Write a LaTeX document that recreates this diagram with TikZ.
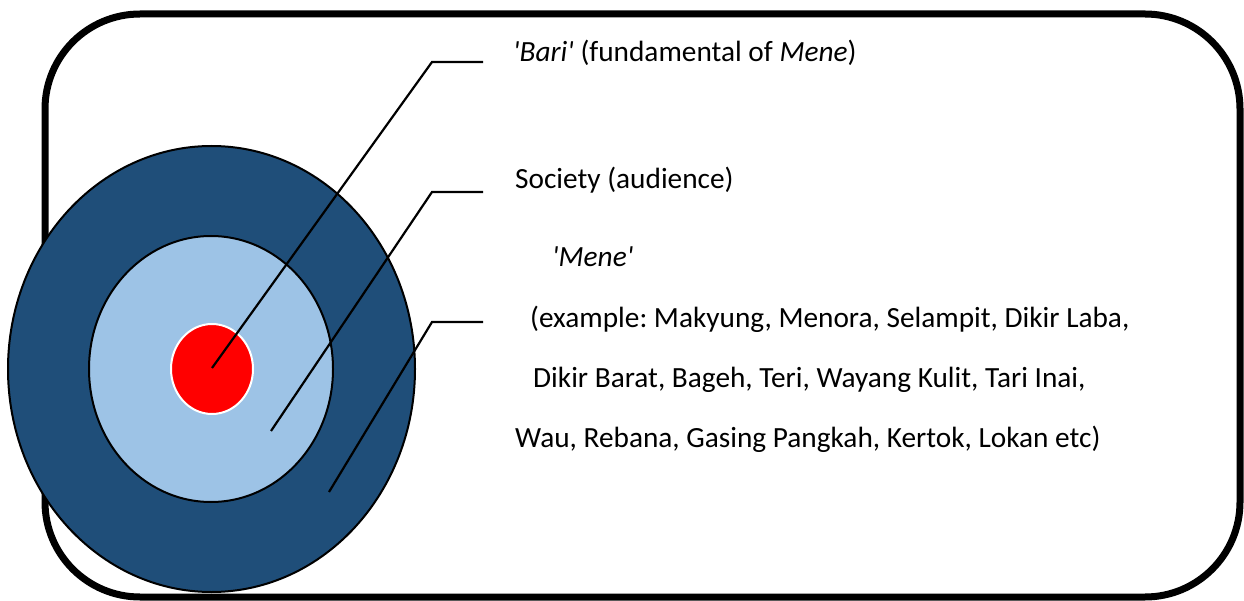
\documentclass[tikz,border=0pt]{standalone}
\usepackage{fontspec}
\setmainfont{Carlito}
\usetikzlibrary{shapes.geometric}
\definecolor{darkblue}{RGB}{31,78,121}
\definecolor{lightblue}{RGB}{157,195,230}
\frenchspacing
\begin{document}
\begin{tikzpicture}[x=1pt,y=-1pt,
  frame/.style={line width=7pt,rounded corners=95pt},
  ring/.style={ellipse,draw=black,line width=2pt,inner sep=0pt},
  leader/.style={line width=2.2pt},
  lbl/.style={anchor=base west,inner sep=0pt,font=\fontsize{29.3}{35}\selectfont}]
\useasboundingbox (0,0) rectangle (1244,601);
\draw[frame] (45,14) rectangle (1240,597);
\node[ring,fill=darkblue,minimum width=407pt,minimum height=446pt] (outer) at (211.5,369) {};
\node[ring,fill=lightblue,minimum width=244pt,minimum height=266pt] (inner) at (211,369) {};
\node[ellipse,draw=white,fill=red,line width=2pt,inner sep=0pt,minimum width=82pt,minimum height=90pt] (core) at (212,369) {};
% leader points
\coordinate (p1) at (212,368);
\coordinate (e1) at (432,62);
\coordinate (t1) at (483,62);
\coordinate (p2) at (271,431);
\coordinate (e2) at (432,192);
\coordinate (t2) at (483,192);
\coordinate (p3) at (329,492);
\coordinate (e3) at (432,322);
\coordinate (t3) at (483,322);
\draw[leader] (p1) -- (e1) -- (t1);
\draw[leader] (p2) -- (e2) -- (t2);
\draw[leader] (p3) -- (e3) -- (t3);
% labels
\node[lbl] (bari) at (513,62) {\textit{\textquotesingle Bari\textquotesingle} (fundamental of \textit{Mene})};
\node[lbl] (society) at (515,189) {Society (audience)};
\node[lbl] (mene) at (552,267) {\textit{\textquotesingle Mene\textquotesingle}};
\node[lbl] (ex1) at (530,327) {(example: Makyung, Menora, Selampit, Dikir Laba,};
\node[lbl] (ex2) at (533,387) {Dikir Barat, Bageh, Teri, Wayang Kulit, Tari Inai,};
\node[lbl] (ex3) at (515,447) {Wau, Rebana, Gasing Pangkah, Kertok, Lokan etc)};
\end{tikzpicture}
\end{document}
